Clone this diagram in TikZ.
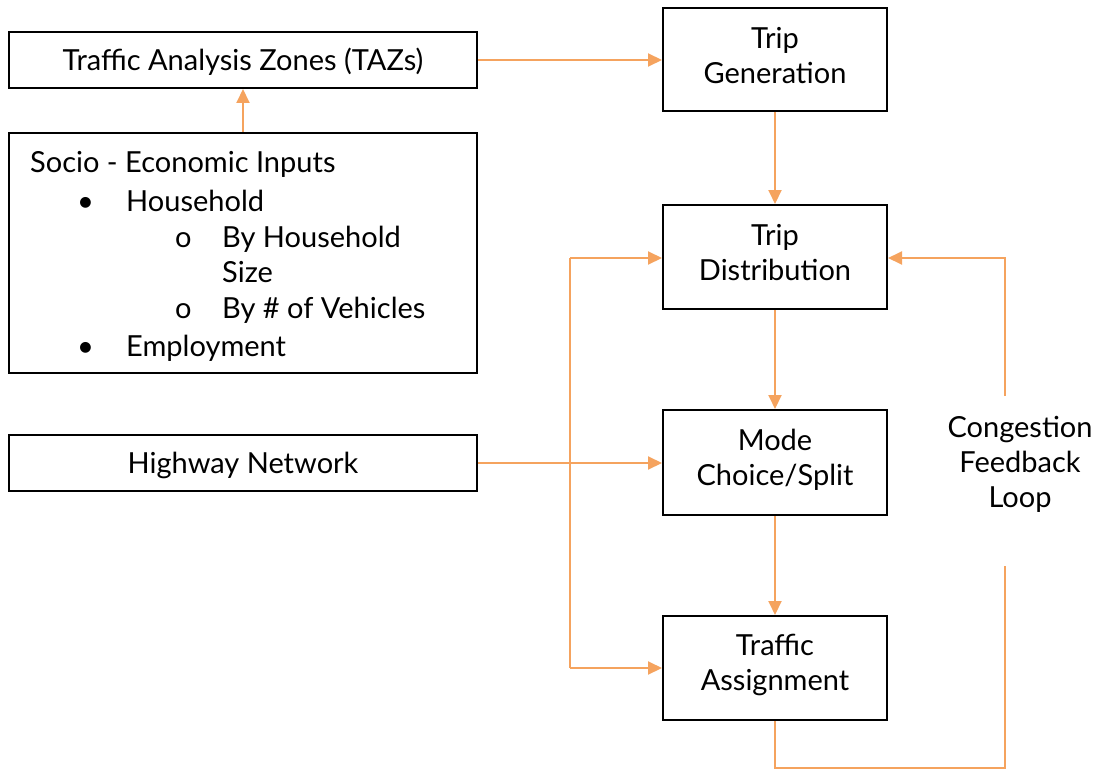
\documentclass[tikz,border=0pt]{standalone}
\usepackage{fontspec}
\setmainfont{Lato}
\usetikzlibrary{arrows.meta}
\definecolor{flow}{HTML}{F5A35E}
\begin{document}
\begin{tikzpicture}[x=1pt,y=-1pt,
  big/.style={font=\fontsize{29}{35}\selectfont},
  frame/.style={draw=black,line width=2pt,rectangle,inner sep=0pt},
  wide/.style={frame,minimum width=468pt},
  twoline/.style={frame,minimum width=224pt},
  boxtext/.style={inner sep=0pt,big,align=center,yshift=4pt},
  onetext/.style={inner sep=0pt,big,yshift=-2pt},
  txt/.style={inner sep=0pt,big,anchor=base west},
  conn/.style={draw=flow,line width=2pt,-{Triangle[length=14pt,width=13pt]}},
  plain/.style={draw=flow,line width=2pt}]
\useasboundingbox (0,0) rectangle (1099,770);
\node[wide,minimum height=56pt] (taz) at (243,60) {};
\node[wide,minimum height=240pt] (socio) at (243,253) {};
\node[wide,minimum height=56pt] (hwy) at (243,463) {};
\node[onetext] (tazT) at (taz.center) {Traffic Analysis Zones (TAZs)};
\node[onetext] (hwyT) at (hwy.center) {Highway Network};
\node[twoline,minimum height=103pt] (gen) at (775,59.5) {};
\node[twoline,minimum height=104pt] (dist) at (775,257) {};
\node[twoline,minimum height=105pt] (mode) at (775,462.5) {};
\node[twoline,minimum height=104pt] (assign) at (775,668) {};
\node[boxtext] (genT) at (gen.center) {Trip\\Generation};
\node[boxtext] (distT) at (dist.center) {Trip\\Distribution};
\node[boxtext,yshift=-1pt] (modeT) at (mode.center) {Mode\\Choice/Split};
\node[boxtext,yshift=-1pt] (assignT) at (assign.center) {Traffic\\Assignment};
\node[txt] (s1) at (30,173) {Socio - Economic Inputs};
\node[txt] (b1) at (77,211) {\textbullet};
\node[txt] (s2) at (126,211) {Household};
\node[txt] (c1) at (175,247) {o};
\node[txt] (s3) at (222,247) {By Household};
\node[txt] (s4) at (222,282) {Size};
\node[txt] (c2) at (175,318) {o};
\node[txt] (s5) at (222,318) {By \# of Vehicles};
\node[txt] (b2) at (77,356) {\textbullet};
\node[txt] (s6) at (126,356) {Employment};
\node[inner sep=0pt,big,align=center] (loop) at (1020,464) {Congestion\\Feedback\\Loop};
\coordinate (jt) at (570,258);
\coordinate (jb) at (570,668);
\coordinate (fb1) at (775,768);
\coordinate (fb2) at (1005,768);
\coordinate (fb3) at (1005,566);
\coordinate (fb4) at (1005,396);
\coordinate (fb5) at (1005,258);
\path[conn] (socio.north) -- (taz.south);
\path[conn] (taz.east) -- (gen.west |- taz.east);
\path[conn] (gen.south) -- (dist.north);
\path[conn] (dist.south) -- (mode.north);
\path[conn] (mode.south) -- (assign.north);
\path[conn] (hwy.east) -- (mode.west |- hwy.east);
\path[conn] (jt) -- (dist.west |- jt);
\path[conn] (jb) -- (assign.west |- jb);
\path[plain] (jt) -- (jb);
\path[plain] (assign.south) -- (fb1) -- (fb2) -- (fb3);
\path[conn] (fb4) -- (fb5) -- (dist.east |- fb5);
\end{tikzpicture}
\end{document}
